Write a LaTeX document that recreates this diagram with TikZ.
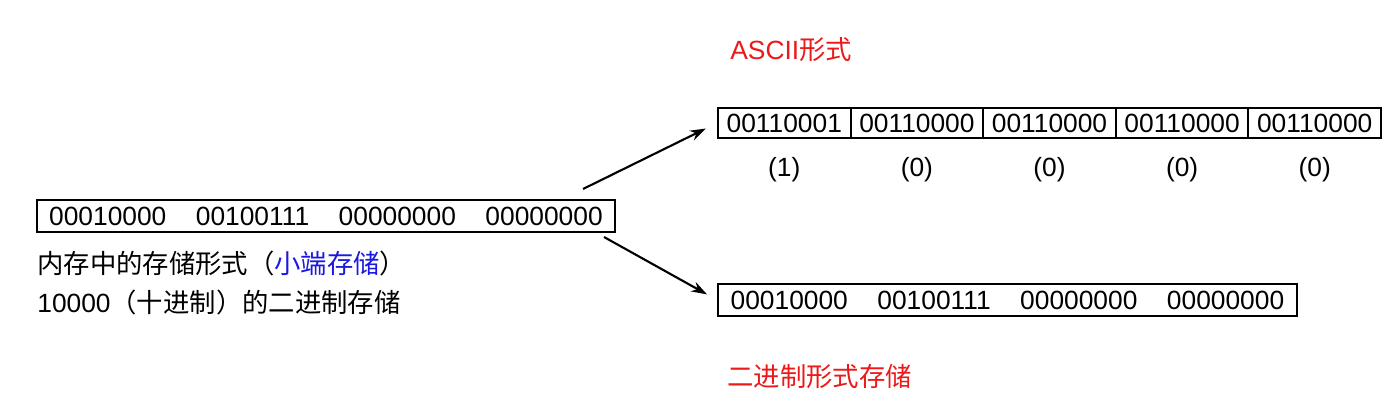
\documentclass[tikz,border=0pt]{standalone}
\usepackage{fontspec}
\setmainfont{Liberation Sans}
\newfontfamily\cjk{Noto Sans CJK SC}
\usepackage{xcolor}
\definecolor{labelred}{RGB}{235, 25, 25}
\definecolor{noteblue}{RGB}{25, 25, 225}
\usepackage{tikz}
\usetikzlibrary{arrows.meta, positioning}

\tikzset{
    bytebox/.style={draw, line width=1.1pt, inner sep=0pt, minimum height=0.64cm,
        font=\fontsize{15}{18}\selectfont},
    cellbox/.style={draw, line width=1.1pt, inner sep=0pt, minimum width=2.65cm,
        minimum height=0.6cm, font=\fontsize{15}{18}\selectfont},
    plain/.style={inner sep=0pt, font=\fontsize{15}{18}\selectfont},
}
\newcommand{\gap}{\hspace{1.12em}}

\begin{document}
\begin{tikzpicture}[x=0.02cm, y=-0.02cm, >={Stealth[length=9pt, width=6pt]}]
    \useasboundingbox (0,0) rectangle (1400,416);
    % memory layout (little endian)
    \node[bytebox, minimum width=11.56cm] (mem) at (326,216)
        {00010000\gap 00100111\gap 00000000\gap 00000000};
    \node[plain, anchor=west] (memnote) at (37,263)
        {\cjk 内存中的存储形式（\textcolor{noteblue}{小端存储}）};
    \node[plain, anchor=west] (decnote) at (37,302)
        {10000{\cjk （十进制）的二进制存储}};
    % ASCII form
    \node[plain, anchor=west, text=labelred] (asciititle) at (730,50) {ASCII{\cjk 形式}};
    \foreach \i/\bits/\digit in {0/00110001/1, 1/00110000/0, 2/00110000/0, 3/00110000/0, 4/00110000/0} {
        \node[cellbox] (a\i) at (784.3+132.6*\i,123) {\bits};
        \node[plain] (v\i) at (784.3+132.6*\i,170) {(\digit)};
    }
    % binary form
    \node[bytebox, minimum width=11.58cm] (bin) at (1007.5,300)
        {00010000\gap 00100111\gap 00000000\gap 00000000};
    \node[plain, anchor=west, text=labelred] (bintitle) at (727,377) {\cjk 二进制形式存储};
    % arrows
    \coordinate (upstart) at (583,189);
    \coordinate (downstart) at (604,237);
    \draw[->, line width=1.2pt, shorten >=0.25cm] (upstart) -- (a0.west);
    \draw[->, line width=1.2pt, shorten >=0.23cm] (downstart) -- (bin.west);
\end{tikzpicture}
\end{document}
